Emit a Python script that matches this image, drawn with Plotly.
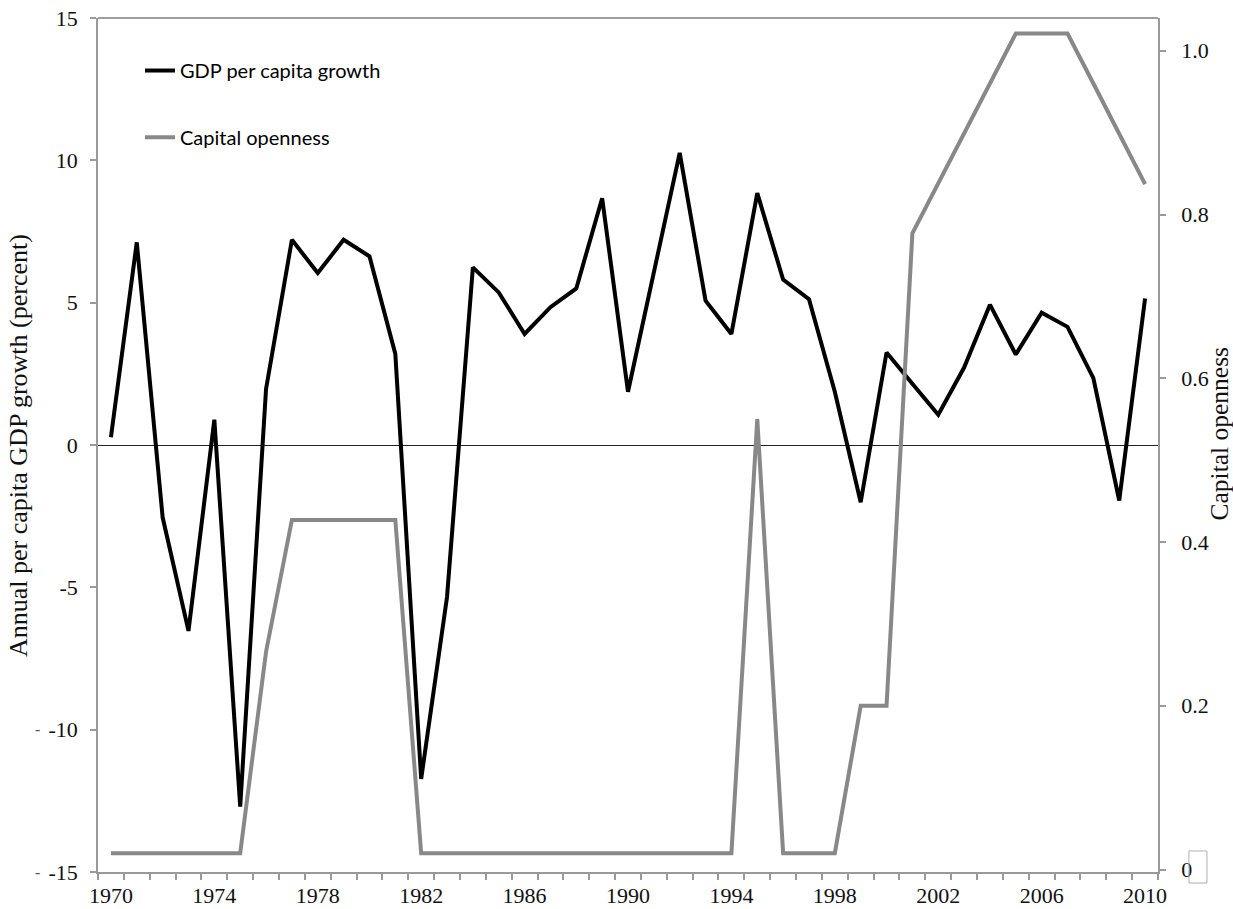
import plotly.graph_objects as go

years = list(range(1970, 2011))
gdp_growth = [0.27, 7.12, -2.54, -6.53, 0.89, -12.7, 1.97, 7.21, 6.04, 7.21,
              6.63, 3.2, -11.73, -5.34, 6.24, 5.36, 3.9, 4.84, 5.5, 8.67,
              1.87, 6.07, 10.26, 5.07, 3.9, 8.85, 5.81, 5.12, 1.87, -2.01,
              3.25, 2.15, 1.06, 2.72, 4.93, 3.18, 4.65, 4.15, 2.35, -1.95,
              5.15]
capital_openness = [0.02, 0.02, 0.02, 0.02, 0.02, 0.02, 0.266, 0.427, 0.427, 0.427,
                    0.427, 0.427, 0.02, 0.02, 0.02, 0.02, 0.02, 0.02, 0.02, 0.02,
                    0.02, 0.02, 0.02, 0.02, 0.02, 0.55, 0.02, 0.02, 0.02, 0.2,
                    0.2, 0.777, 0.838, 0.899, 0.96, 1.021, 1.021, 1.021, 0.96, 0.898,
                    0.837]
x_tick_years = years[::4]
left_ticks = [-15, -10, -5, 0, 5, 10, 15]
left_ticktext = ["-15", "-10", "-5", "0", "5", "10", "15"]
stray_dash_ticks = [-15, -10]
right_ticks = [0, 0.2, 0.4, 0.6, 0.8, 1.0]
right_ticktext = ["0", "0.2", "0.4", "0.6", "0.8", "1.0"]

serif = "Liberation Serif"
axis_gray = "#9a9a9a"
tick_font = dict(family=serif, size=22, color="#111")

fig = go.Figure()
fig.add_trace(go.Scatter(
    x=years, y=gdp_growth, mode="lines", name="GDP per capita growth",
    line=dict(color="#000000", width=4), yaxis="y", legend="legend"))
fig.add_trace(go.Scatter(
    x=years, y=capital_openness, mode="lines", name="Capital openness",
    line=dict(color="#888888", width=4), yaxis="y2", legend="legend2"))

boundaries = [y - 0.5 for y in years] + [years[-1] + 0.5]

annotations = [
    dict(text="Annual per capita GDP growth (percent)", xref="paper", yref="paper",
         x=-0.0755, y=0.5, xanchor="center", yanchor="middle", textangle=-90,
         showarrow=False, font=dict(family=serif, size=26, color="#111")),
    dict(text="Capital openness", xref="paper", yref="paper",
         x=1.058, y=0.514, xanchor="center", yanchor="middle", textangle=-90,
         showarrow=False, font=dict(family=serif, size=25.5, color="#111")),
]
for v in stray_dash_ticks:
    annotations.append(dict(text="-", xref="paper", yref="y", x=-0.0575, y=v,
                            xanchor="center", yanchor="middle", showarrow=False,
                            font=dict(family=serif, size=16, color="#555")))

fig.update_layout(
    width=1233, height=909,
    margin=dict(l=98, r=75, t=18, b=37, autoexpand=False),
    paper_bgcolor="white", plot_bgcolor="white",
    xaxis=dict(
        range=[years[0] - 0.5, years[-1] + 0.5], automargin=False,
        tickmode="array", tickvals=x_tick_years,
        ticktext=[str(v) for v in x_tick_years],
        ticks="", showgrid=False, zeroline=False,
        showline=True, linecolor=axis_gray, linewidth=1.5,
        tickfont=tick_font, ticklabelstandoff=3,
        minor=dict(tickmode="array", tickvals=boundaries, ticks="outside",
                   ticklen=6, tickcolor=axis_gray, tickwidth=1.5, showgrid=False),
    ),
    yaxis=dict(
        range=[-15, 15], automargin=False,
        tickmode="array", tickvals=left_ticks, ticktext=left_ticktext,
        ticks="outside", ticklen=6, tickcolor=axis_gray, tickwidth=1.5,
        showgrid=False, zeroline=True, zerolinecolor="#222222", zerolinewidth=1.2,
        showline=True, linecolor=axis_gray, linewidth=1.5,
        tickfont=tick_font, ticklabelstandoff=8,
    ),
    yaxis2=dict(
        range=[-0.003, 1.04], overlaying="y", side="right", automargin=False,
        tickmode="array", tickvals=right_ticks, ticktext=right_ticktext,
        ticks="outside", ticklen=6, tickcolor=axis_gray, tickwidth=1.5,
        showgrid=False, zeroline=False,
        showline=True, linecolor=axis_gray, linewidth=1.5,
        tickfont=tick_font, ticklabelstandoff=11,
    ),
    legend=dict(x=0.0396, y=0.9385, xanchor="left", yanchor="middle",
                bgcolor="rgba(0,0,0,0)", font=dict(family="Lato", size=20, color="#000")),
    legend2=dict(x=0.0396, y=0.8605, xanchor="left", yanchor="middle",
                 bgcolor="rgba(0,0,0,0)", font=dict(family="Lato", size=20, color="#000")),
    showlegend=True,
    annotations=annotations,
    shapes=[
        dict(type="line", xref="paper", yref="paper", x0=0, x1=1, y0=1, y1=1,
             line=dict(color="#404040", width=1.2)),
        dict(type="rect", xref="paper", yref="paper", x0=1.0292, x1=1.0462,
             y0=-0.0129, y1=0.0246, line=dict(color="#b0b0b0", width=1)),
    ],
)

fig.write_html("out.html", config={"displayModeBar": False},
               post_script="document.body.style.margin='0px';")
